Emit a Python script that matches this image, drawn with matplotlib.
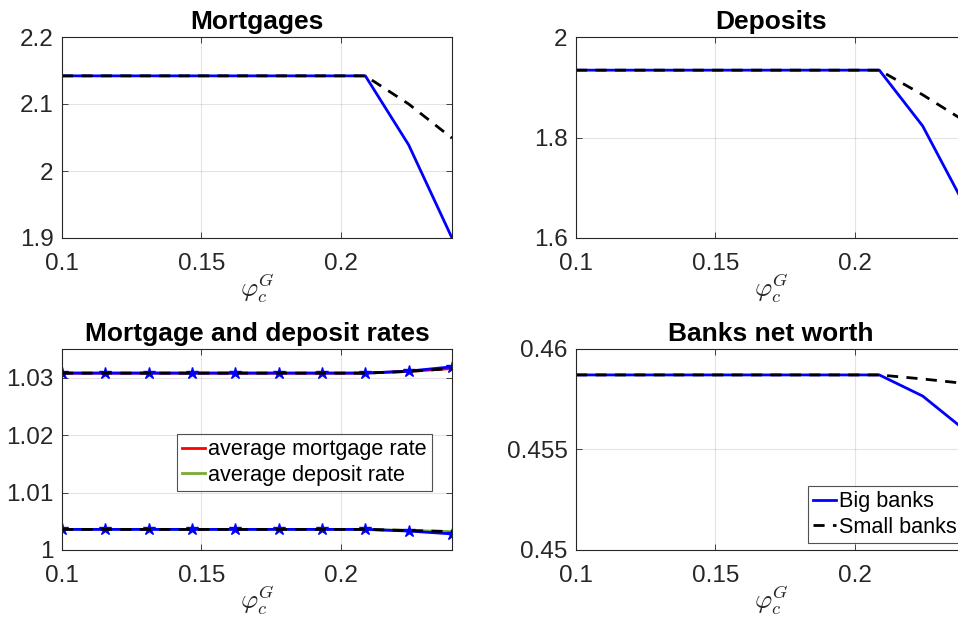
import numpy as np
import matplotlib
matplotlib.use("Agg")
import matplotlib.pyplot as plt

plt.rcParams['font.family'] = ['Liberation Sans', 'DejaVu Sans']
plt.rcParams['mathtext.fontset'] = 'cm'

# Grid of the capital-requirement parameter
phi = [0.1, 0.11556, 0.13111, 0.14667, 0.16222, 0.17778, 0.19333, 0.20889, 0.22444, 0.24]

mort_big = [2.142, 2.142, 2.142, 2.142, 2.142, 2.142, 2.142, 2.142, 2.039, 1.900]
mort_small = [2.142, 2.142, 2.142, 2.142, 2.142, 2.142, 2.142, 2.142, 2.100, 2.049]

dep_big = [1.934, 1.934, 1.934, 1.934, 1.934, 1.934, 1.934, 1.934, 1.823, 1.660]
dep_small = [1.934, 1.934, 1.934, 1.934, 1.934, 1.934, 1.934, 1.934, 1.885, 1.831]

rm_avg = [1.0308, 1.0308, 1.0308, 1.0308, 1.0308, 1.0308, 1.0308, 1.0308, 1.0311, 1.0316]
rd_avg = [1.00359, 1.00359, 1.00359, 1.00359, 1.00359, 1.00359, 1.00359, 1.00359, 1.0034, 1.0032]
rm_big = [1.0308, 1.0308, 1.0308, 1.0308, 1.0308, 1.0308, 1.0308, 1.0308, 1.03115, 1.0319]
rm_small = [1.0308, 1.0308, 1.0308, 1.0308, 1.0308, 1.0308, 1.0308, 1.0308, 1.0311, 1.0316]
rd_big = [1.00359, 1.00359, 1.00359, 1.00359, 1.00359, 1.00359, 1.00359, 1.00359, 1.0033, 1.0028]
rd_small = [1.00359, 1.00359, 1.00359, 1.00359, 1.00359, 1.00359, 1.00359, 1.00359, 1.0034, 1.0032]

nw_big = [0.45871, 0.45871, 0.45871, 0.45871, 0.45871, 0.45871, 0.45871, 0.45871, 0.45766, 0.45592]
nw_small = [0.45871, 0.45871, 0.45871, 0.45871, 0.45871, 0.45871, 0.45871, 0.45871, 0.45851, 0.45828]

xticks = [0.1, 0.15, 0.2]
xticklabels = ['0.1', '0.15', '0.2']

fig = plt.figure(figsize=(9.58, 6.22), dpi=100)

W, H = 958, 622
def box(l, t, r, b):
    return [l / W, 1 - b / H, (r - l) / W, (b - t) / H]

ax1 = fig.add_axes(box(62, 37, 452, 238))
ax2 = fig.add_axes(box(576, 37, 966, 238))
ax3 = fig.add_axes(box(62, 349, 452, 550))
ax4 = fig.add_axes(box(576, 349, 966, 550))

gray = (0.15, 0.15, 0.15)

def style(ax, title, ylim, yticks, yticklabels):
    ax.set_xlim(0.1, 0.24)
    ax.set_ylim(*ylim)
    ax.set_xticks(xticks)
    ax.set_xticklabels(xticklabels)
    ax.set_yticks(yticks)
    ax.set_yticklabels(yticklabels)
    ax.grid(True, color=(0.15, 0.15, 0.15), alpha=0.12, linewidth=0.8)
    ax.set_axisbelow(True)
    for s in ax.spines.values():
        s.set_color(gray)
        s.set_linewidth(0.8)
    ax.tick_params(direction='in', length=4, width=0.6, colors=gray,
                   labelsize=17.5, top=True, right=True)
    ax.tick_params(axis='x', pad=10.5)
    ax.tick_params(axis='y', pad=6)
    ax.set_title(title, fontsize=19, fontweight='bold', pad=6)
    ax.set_xlabel(r'$\varphi_c^G$', fontsize=19, color=gray, labelpad=-3)

lw = 2.0
dash = (0, (4, 3))
ax1.plot(phi, mort_big, color='#0000ff', lw=lw)
ax1.plot(phi, mort_small, color='k', ls=dash, lw=lw)
style(ax1, 'Mortgages', (1.9, 2.2), [1.9, 2.0, 2.1, 2.2], ['1.9', '2', '2.1', '2.2'])

ax2.plot(phi, dep_big, color='#0000ff', lw=lw)
ax2.plot(phi, dep_small, color='k', ls=dash, lw=lw)
style(ax2, 'Deposits', (1.6, 2.0), [1.6, 1.8, 2.0], ['1.6', '1.8', '2'])

l1, = ax3.plot(phi, rm_avg, color='#ff0000', lw=lw)
l2, = ax3.plot(phi, rd_avg, color='#77ac30', lw=lw)
ax3.plot(phi, rm_big, color='#0000ff', lw=lw, marker='*', ms=9)
ax3.plot(phi, rd_big, color='#0000ff', lw=lw, marker='*', ms=9)
ax3.plot(phi, rm_small, color='k', ls=dash, lw=lw)
ax3.plot(phi, rd_small, color='k', ls=dash, lw=lw)
style(ax3, 'Mortgage and deposit rates', (1.0, 1.035), [1.0, 1.01, 1.02, 1.03],
      ['1', '1.01', '1.02', '1.03'])

leg_kw = dict(fontsize=15.6, frameon=True, fancybox=False, handlelength=1.05,
              handletextpad=0.15, borderpad=0.25, labelspacing=0.2,
              borderaxespad=0)
leg3 = ax3.legend([l1, l2], ['average mortgage rate', 'average deposit rate'],
                  loc='upper left', bbox_to_anchor=(115 / 390, 1 - 85 / 201),
                  **leg_kw)
leg3.get_frame().set_edgecolor(gray)
leg3.get_frame().set_linewidth(0.8)

b1, = ax4.plot(phi, nw_big, color='#0000ff', lw=lw)
b2, = ax4.plot(phi, nw_small, color='k', ls=dash, lw=lw)
style(ax4, 'Banks net worth', (0.45, 0.46), [0.45, 0.455, 0.46], ['0.45', '0.455', '0.46'])
leg4 = ax4.legend([b1, b2], ['Big banks', 'Small banks'],
                  loc='lower left', bbox_to_anchor=(232 / 390, 7 / 201),
                  **leg_kw)
leg4.get_frame().set_edgecolor(gray)
leg4.get_frame().set_linewidth(0.8)

fig.savefig('out.png', dpi=100)
